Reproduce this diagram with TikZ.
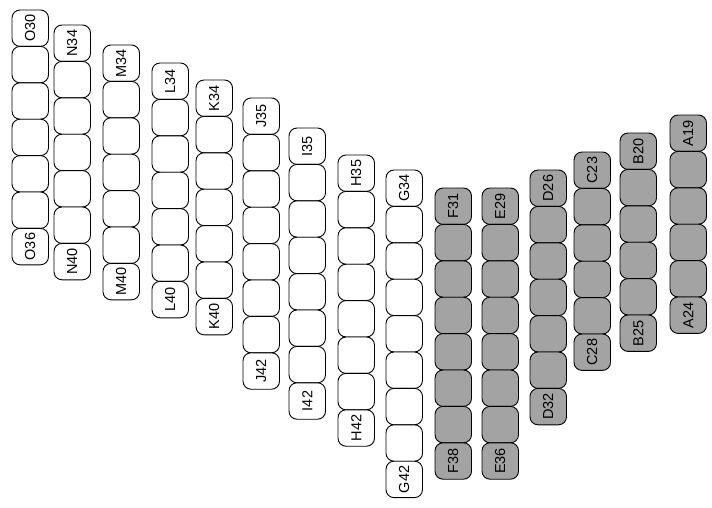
\documentclass[tikz,border=0pt]{standalone}
\usepackage{fontspec}
\setmainfont{Liberation Sans}
\begin{document}
\begin{tikzpicture}[x=1pt,y=-1pt,
  cell/.style={draw=black, line width=0.9pt, rounded corners=8pt, rotate=90,
    minimum width=36.4pt, minimum height=36.5pt, inner sep=0pt, outer sep=0pt,
    font=\fontsize{14.5}{15}\selectfont},
  plain/.style={cell, fill=white},
  shaded/.style={cell, fill=black!36}]
\useasboundingbox (0,0) rectangle (712,507);
\foreach \c/\x/\t/\s/\e/\f in {
  O/12/10/30/36/plain, N/54/25/34/40/plain, M/103/45/34/40/plain,
  L/152/63/34/40/plain, K/196/80/34/40/plain, J/243/98/35/42/plain,
  I/289/128/35/42/plain, H/338/155/35/42/plain, G/386/170/34/42/plain,
  F/435/188/31/38/shaded, E/482/188/29/36/shaded, D/530/170/26/32/shaded,
  C/574/152/23/28/shaded, B/620/133/20/25/shaded, A/670/115/19/24/shaded}{
  \foreach \n in {\s,...,\e}{
    \pgfmathsetmacro\yy{\t + (\n-\s)*36.4 + 18.2}
    \node[\f] (\c\n) at ({\x+18.25},{\yy})
      {\ifnum\n=\s\relax\c\n\else\ifnum\n=\e\relax\c\n\fi\fi};
  }
}
\end{tikzpicture}
\end{document}
